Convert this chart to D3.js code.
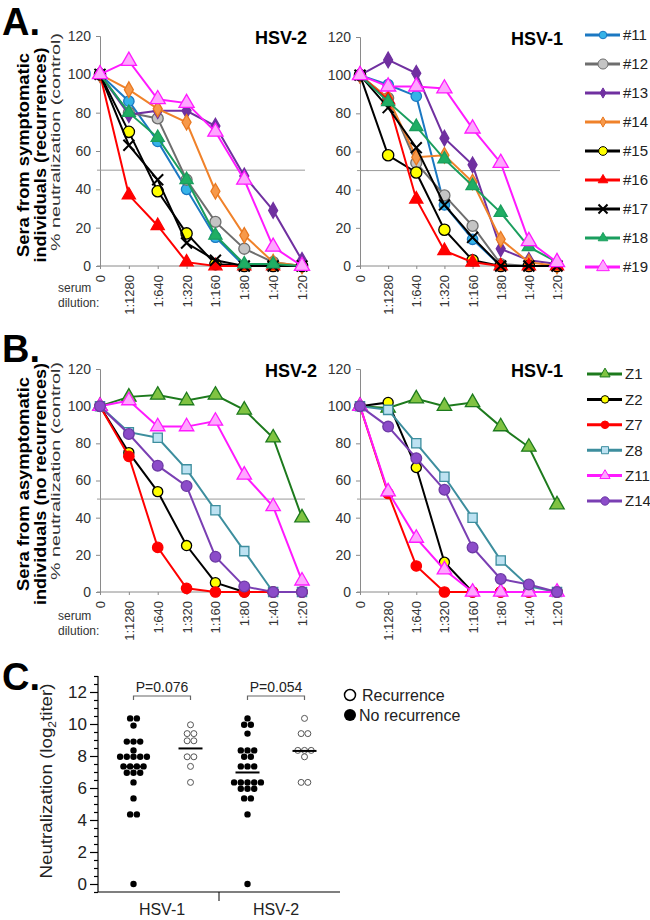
<!DOCTYPE html>
<html lang="en">

<head>
  <meta charset="UTF-8">
  <title>neutralization</title>
  <script src="https://cdn.jsdelivr.net/npm/d3@7"></script>
  <style>
    body { margin: 0; background: #fff; }
    text { font-family: Arial, "Liberation Sans", sans-serif; }
  </style>
</head>

<body>
  <svg width="650" height="920"></svg>
  <script>
    // ---- data ----
    var dilutions = ['0', '1:1280', '1:640', '1:320', '1:160', '1:80', '1:40', '1:20']
    var pctTicks = [0, 20, 40, 60, 80, 100, 120]

    var symptomaticIds = ['#11', '#12', '#13', '#14', '#15', '#16', '#17', '#18', '#19']
    var symptomaticHSV2 = [
      [100, 86, 65, 40, 15, 0, 0, 0],
      [100, 80, 77, 45, 23, 9, 2, 0],
      [100, 79, 81, 81, 73, 47, 29, 3],
      [100, 92, 82, 75, 39, 16, 2, 0],
      [100, 70, 39, 17, 1, 0, 0, 0],
      [100, 37, 21, 2, 0, 0, 0, 0],
      [100, 63, 45, 12, 3, 0, 0, 0],
      [100, 80, 67, 45, 16, 1, 1, 0],
      [100, 107, 87, 85, 70, 45, 10, 0]
    ]
    var symptomaticHSV1 = [
      [100, 95, 89, 32, 14, 0, 0, 0],
      [100, 88, 54, 37, 21, 1, 0, 0],
      [100, 108, 101, 67, 53, 9, 3, 1],
      [100, 88, 57, 58, 44, 14, 2, 0],
      [100, 58, 49, 19, 3, 0, 0, 0],
      [100, 87, 35, 8, 2, 0, 0, 0],
      [100, 83, 62, 32, 15, 0, 0, 0],
      [100, 86, 73, 56, 42, 28, 10, 2],
      [100, 94, 94, 93, 72, 54, 13, 2]
    ]

    var asymptomaticIds = ['Z1', 'Z2', 'Z7', 'Z8', 'Z11', 'Z14']
    var asymptomaticHSV2 = [
      [100, 105, 106, 103, 106, 98, 83, 40],
      [100, 75, 54, 25, 5, 0, 0, 0],
      [100, 73, 24, 2, 0, 0, 0, 0],
      [100, 86, 83, 66, 44, 22, 0, 0],
      [100, 103, 89, 89, 92, 63, 46, 6],
      [100, 85, 68, 57, 19, 3, 0, 0]
    ]
    var asymptomaticHSV1 = [
      [100, 99, 104, 100, 102, 89, 78, 47],
      [100, 102, 67, 16, 0, 0, 0, 0],
      [100, 53, 14, 0, 0, 0, 0, 0],
      [100, 98, 80, 62, 40, 17, 3, 0],
      [100, 54, 29, 12, 0, 0, 0, 0],
      [100, 89, 72, 55, 24, 7, 4, 0]
    ]

    // panel C, log2 titers
    var viruses = ['HSV-1', 'HSV-2']
    var noRecurrenceHSV1 = [10.35, 10.35, 9.9, 8.9, 8.9, 8.9, 8.35, 7.95, 7.95, 7.95, 7.95, 7.95,
      7.35, 7.35, 7.35, 7.35, 6.95, 6.95, 6.95, 6.35, 5.35, 4.35, 4.35, 0]
    var recurrenceHSV1 = [9.95, 9.4, 9.4, 8.95, 8.95, 7.95, 7.95, 7.35, 6.35]
    var noRecurrenceHSV2 = [10.35, 9.95, 9.95, 9.4, 8.35, 8.35, 8.35, 7.95, 7.95, 7.35, 7.35, 7.35,
      6.35, 6.35, 6.35, 6.35, 6.35, 5.95, 5.95, 5.95, 5.35, 5.35, 4.35, 0]
    var recurrenceHSV2 = [10.35, 9.4, 9.4, 8.35, 8.35, 8.35, 7.95, 6.35, 6.35]
    var pValues = ['P=0.076', 'P=0.054']
    var titerTicks = [0, 2, 4, 6, 8, 10, 12]

    // ---- styles ----
    var symX = d3.symbolX || d3.symbolTimes
    var styleA = [
      { line: '#1b78c2', fill: '#35b3e8', stroke: '#1b78c2', shape: d3.symbolCircle, size: 85, leg: 45 },
      { line: '#6e6e6e', fill: '#c4c4c4', stroke: '#6e6e6e', shape: d3.symbolCircle, size: 95, leg: 80 },
      { line: '#7030a0', fill: '#7030a0', stroke: '#7030a0', shape: d3.symbolDiamond, size: 70, leg: 30 },
      { line: '#f0822a', fill: '#f7994a', stroke: '#e87820', shape: d3.symbolDiamond, size: 70, leg: 30 },
      { line: '#000', fill: '#ffff00', stroke: '#000', shape: d3.symbolCircle, size: 100, leg: 60 },
      { line: '#ff0000', fill: '#ff0000', stroke: '#ff0000', shape: d3.symbolTriangle, size: 75, leg: 40 },
      { line: '#000', fill: 'none', stroke: '#000', shape: symX, size: 80, leg: 55 },
      { line: '#1a9e5e', fill: '#1fae64', stroke: '#1a9e5e', shape: d3.symbolTriangle, size: 75, leg: 40 },
      { line: '#ff1aff', fill: '#ffa6ff', stroke: '#ff1aff', shape: d3.symbolTriangle, size: 100, leg: 70 }
    ]
    var styleB = [
      { line: '#1d7a1d', fill: '#80c342', stroke: '#1d7a1d', shape: d3.symbolTriangle, size: 90, leg: 45 },
      { line: '#000', fill: '#ffff00', stroke: '#000', shape: d3.symbolCircle, size: 80, leg: 45 },
      { line: '#ff0000', fill: '#ff0000', stroke: '#ff0000', shape: d3.symbolCircle, size: 85, leg: 45 },
      { line: '#3d8e9e', fill: '#bde2f2', stroke: '#3d8e9e', shape: d3.symbolSquare, size: 85, leg: 50 },
      { line: '#ff1aff', fill: '#ffa6ff', stroke: '#ff1aff', shape: d3.symbolTriangle, size: 90, leg: 45 },
      { line: '#7a3fb3', fill: '#8c4cc9', stroke: '#6d3aa5', shape: d3.symbolCircle, size: 90, leg: 55 }
    ]

    var svg = d3.select('svg')

    function linePanel(opt) {
      var x = d3.scalePoint().domain(dilutions).range(opt.xr)
      var y = d3.scaleLinear().domain([0, 120]).range(opt.yr)
      var g = svg.append('g')

      var ya = g.append('g')
        .attr('transform', 'translate(' + opt.xr[0] + ',0)')
        .call(d3.axisLeft(y).tickValues(pctTicks).tickSize(4).tickPadding(5))
      var xa = g.append('g')
        .attr('transform', 'translate(0,' + opt.yr[0] + ')')
        .call(d3.axisBottom(x).tickSize(3).tickPadding(0))
      xa.selectAll('text')
        .attr('transform', 'rotate(-90)')
        .attr('text-anchor', 'end')
        .attr('x', -9).attr('y', 0).attr('dy', '0.35em')
        .style('font-size', '13px')
      ya.selectAll('text').style('font-size', '14px')
      g.selectAll('.domain, .tick line').attr('stroke', '#8a8a8a')
      g.selectAll('.tick text').attr('fill', '#333').style('font-family', 'Arial, "Liberation Sans", sans-serif')
      xa.select('.domain').attr('d', 'M' + (opt.xr[0] - 3) + ',0H' + (opt.xr[1] + 3))

      // 50% reference line
      g.append('line')
        .attr('x1', opt.xr[0] - 3).attr('x2', opt.xr[1] + 3)
        .attr('y1', y(50)).attr('y2', y(50))
        .attr('stroke', '#999').attr('stroke-width', 1)

      var line = d3.line().x(function (d, i) { return x(dilutions[i]) }).y(function (d) { return y(d) })
      opt.series.forEach(function (vals, k) {
        var st = opt.styles[k]
        var s = g.append('g')
        s.append('path').attr('d', line(vals))
          .attr('fill', 'none').attr('stroke', st.line).attr('stroke-width', 2)
        s.selectAll('path.m').data(vals).enter().append('path')
          .attr('class', 'm')
          .attr('transform', function (d, i) { return 'translate(' + x(dilutions[i]) + ',' + y(d) + ')' })
          .attr('d', d3.symbol().type(st.shape).size(st.size))
          .attr('fill', st.fill).attr('stroke', st.stroke)
          .attr('stroke-width', st.shape === symX ? 2 : 1.3)
      })

      g.append('text')
        .attr('x', opt.titleX).attr('y', opt.yr[1] + 8)
        .attr('text-anchor', 'end')
        .style('font-size', '18px').style('font-weight', 'bold')
        .text(opt.title)
      return g
    }

    function legend(ids, styles, x0, y0, step) {
      var lg = svg.append('g')
      ids.forEach(function (id, k) {
        var st = styles[k]
        var yy = y0 + k * step
        lg.append('line').attr('x1', x0).attr('x2', x0 + 35).attr('y1', yy).attr('y2', yy)
          .attr('stroke', st.line).attr('stroke-width', 3)
        lg.append('path')
          .attr('transform', 'translate(' + (x0 + 18) + ',' + yy + ')')
          .attr('d', d3.symbol().type(st.shape).size(st.leg))
          .attr('fill', st.fill).attr('stroke', st.stroke)
          .attr('stroke-width', st.shape === symX ? 2 : 1)
        lg.append('text').attr('x', x0 + 38).attr('y', yy).attr('dy', '0.36em')
          .style('font-size', '15px').attr('fill', '#222').text(id)
      })
    }

    // rotated titles, stretched along their length like the source figure
    function vText(x, cy, txt, len, size, bold, fill) {
      return svg.append('text')
        .attr('transform', 'translate(' + x + ',' + cy + ') rotate(-90)')
        .attr('text-anchor', 'middle')
        .attr('textLength', len).attr('lengthAdjust', 'spacingAndGlyphs')
        .style('font-size', size + 'px').style('font-weight', bold ? 'bold' : 'normal')
        .attr('fill', fill)
        .text(txt)
    }

    function sideTitle(lines, lens, cy, sub, subCy) {
      vText(29, cy, lines[0], lens[0], 16.5, true, '#000')
      vText(45.5, cy, lines[1], lens[1], 16.5, true, '#000')
      vText(60, subCy, sub, 218, 13, false, '#333')
    }

    function panelLetter(txt, yb) {
      svg.append('text').attr('x', 2).attr('y', yb)
        .style('font-size', '38px').style('font-weight', 'bold').text(txt)
    }

    function serumLabel(yb) {
      svg.append('text').attr('x', 58).attr('y', yb).style('font-size', '12px').attr('fill', '#333').text('serum')
      svg.append('text').attr('x', 58).attr('y', yb + 15).style('font-size', '12px').attr('fill', '#333').text('dilution:')
    }

    // ---- panel A ----
    panelLetter('A.', 35)
    linePanel({ xr: [100, 302], yr: [266, 36], series: symptomaticHSV2, styles: styleA, title: 'HSV-2', titleX: 307 })
    linePanel({ xr: [360, 557], yr: [266, 37], series: symptomaticHSV1, styles: styleA, title: 'HSV-1', titleX: 563 })
    legend(symptomaticIds, styleA, 585, 35, 29)
    sideTitle(['Sera from symptomatic', 'individuals (recurrences)'], [204, 215], 155,
      '% neutralization (control)', 142)
    serumLabel(292)

    // ---- panel B ----
    panelLetter('B.', 362)
    linePanel({ xr: [100, 302], yr: [592, 369], series: asymptomaticHSV2, styles: styleB, title: 'HSV-2', titleX: 317 })
    linePanel({ xr: [360, 557], yr: [592, 369], series: asymptomaticHSV1, styles: styleB, title: 'HSV-1', titleX: 563 })
    legend(asymptomaticIds, styleB, 587, 374, 25.4)
    sideTitle(['Sera from asymptomatic', 'individuals (no recurrences)'], [214, 242], 484,
      '% neutralization (control)', 471)
    serumLabel(620)

    // ---- panel C ----
    panelLetter('C.', 690)
    var cy = d3.scaleLinear().domain([0, 12]).range([884, 692])
    var cx = d3.scaleBand().domain(viruses).range([105, 333])
    var cSub = d3.scalePoint().domain(['no', 'rec']).range([0, cx.bandwidth()]).padding(0.5)
    var gc = svg.append('g')

    var minor = d3.range(-0.5, 13.01, 0.5).filter(function (v) { return v % 2 !== 0 })
    gc.append('g').attr('transform', 'translate(98,0)')
      .call(d3.axisLeft(cy).tickValues(minor).tickSize(4).tickFormat(''))
      .call(function (a) { a.select('.domain').remove() })
    var cya = gc.append('g').attr('transform', 'translate(98,0)')
      .call(d3.axisLeft(cy).tickValues(titerTicks).tickSize(8).tickPadding(3))
    cya.select('.domain').attr('d', 'M0,' + cy(13) + 'V' + cy(-0.5))
    cya.selectAll('text').style('font-size', '17px').attr('fill', '#222')
    var cxa = gc.append('g').attr('transform', 'translate(0,' + cy(-0.5) + ')')
      .call(d3.axisBottom(cx).tickSize(0).tickPadding(12))
    cxa.select('.domain').attr('d', 'M98,0H340')
    cxa.selectAll('text').style('font-size', '16px').attr('fill', '#222')
    cxa.append('line').attr('x1', cx('HSV-2')).attr('x2', cx('HSV-2')).attr('y1', 0).attr('y2', 9).attr('stroke', '#000')
    gc.selectAll('.domain, .tick line').attr('stroke', '#000').attr('stroke-width', 1.2)

    var groupsC = [
      { virus: 'HSV-1', sub: 'no', vals: noRecurrenceHSV1 },
      { virus: 'HSV-1', sub: 'rec', vals: recurrenceHSV1 },
      { virus: 'HSV-2', sub: 'no', vals: noRecurrenceHSV2 },
      { virus: 'HSV-2', sub: 'rec', vals: recurrenceHSV2 }
    ]
    groupsC.forEach(function (grp) {
      var cxm = cx(grp.virus) + cSub(grp.sub)
      var rows = d3.group(grp.vals, function (v) { return v })
      rows.forEach(function (vs, v) {
        vs.forEach(function (d, i) {
          gc.append('circle')
            .attr('cx', cxm + (i - (vs.length - 1) / 2) * 6.7)
            .attr('cy', cy(v))
            .attr('r', grp.sub === 'no' ? 3.2 : 3)
            .attr('fill', grp.sub === 'no' ? '#000' : '#fff')
            .attr('stroke', grp.sub === 'no' ? 'none' : '#555')
            .attr('stroke-width', 1)
        })
      })
      var m = d3.mean(grp.vals)
      gc.append('line').attr('x1', cxm - 12).attr('x2', cxm + 12)
        .attr('y1', cy(m)).attr('y2', cy(m))
        .attr('stroke', '#000').attr('stroke-width', 2)
    })

    viruses.forEach(function (v, k) {
      var a = cx(v) + cSub('no'), b = cx(v) + cSub('rec')
      gc.append('path')
        .attr('d', 'M' + a + ',700V696H' + b + 'V700')
        .attr('fill', 'none').attr('stroke', '#666').attr('stroke-width', 1.2)
      gc.append('text').attr('x', (a + b) / 2).attr('y', 692)
        .attr('text-anchor', 'middle').style('font-size', '14px').attr('fill', '#222')
        .text(pValues[k])
    })

    var yl = svg.append('text')
      .attr('transform', 'translate(52,781) rotate(-90)')
      .attr('text-anchor', 'middle').style('font-size', '17px').attr('fill', '#222')
      .attr('textLength', 195).attr('lengthAdjust', 'spacingAndGlyphs')
    yl.append('tspan').text('Neutralization (log')
    yl.append('tspan').attr('dy', 4).style('font-size', '11px').text('2')
    yl.append('tspan').attr('dy', -4).text('titer)')

    // legend C
    svg.append('circle').attr('cx', 350).attr('cy', 695).attr('r', 5.5)
      .attr('fill', '#fff').attr('stroke', '#000').attr('stroke-width', 1.5)
    svg.append('text').attr('x', 362).attr('y', 695).attr('dy', '0.36em')
      .style('font-size', '16px').attr('fill', '#222').text('Recurrence')
    svg.append('circle').attr('cx', 350).attr('cy', 715).attr('r', 6).attr('fill', '#000')
    svg.append('text').attr('x', 359).attr('y', 715).attr('dy', '0.36em')
      .style('font-size', '16px').attr('fill', '#222').text('No recurrence')
  </script>
</body>

</html>
